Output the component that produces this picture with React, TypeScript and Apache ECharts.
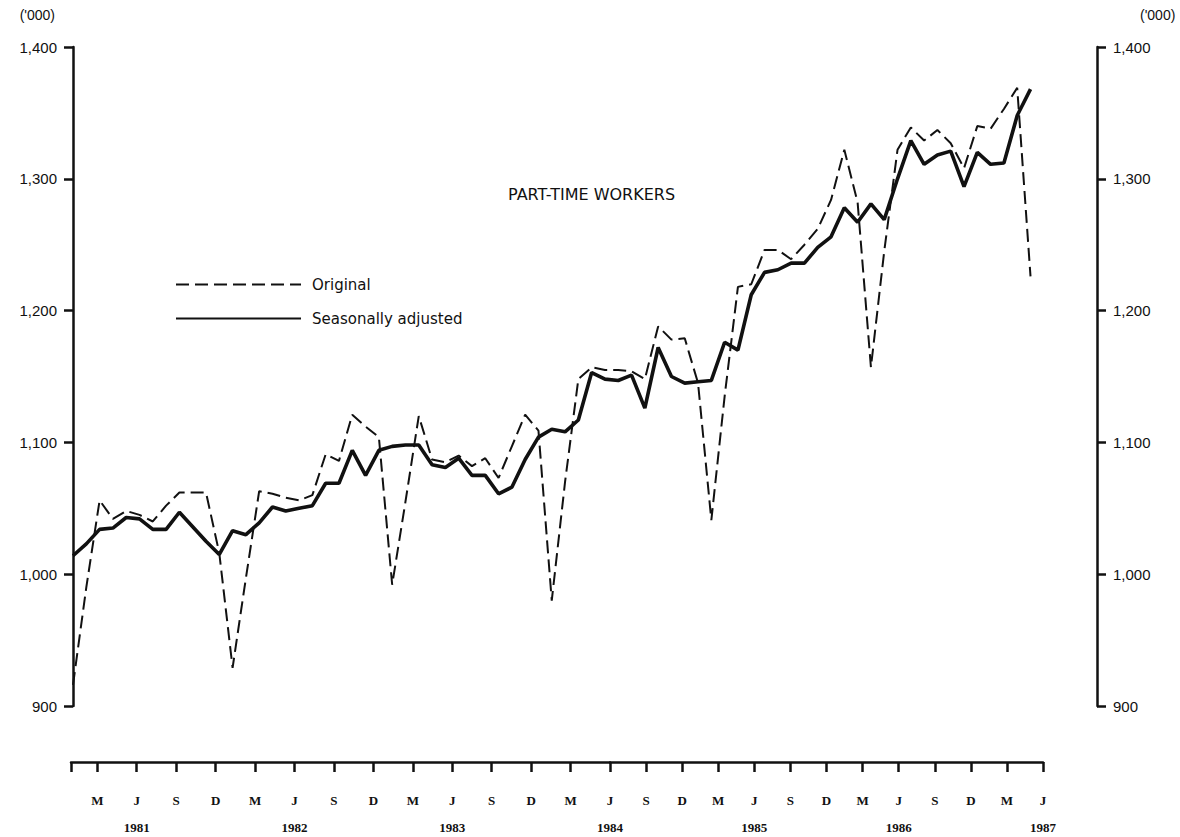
import React, { useEffect, useRef } from "react";
import * as echarts from "echarts";

// Years covered by the time axis (Jan 1981 .. Jun 1987)
const years = [1981, 1982, 1983, 1984, 1985, 1986, 1987];
const monthCodes = ["01", "02", "03", "04", "05", "06", "07", "08", "09", "10", "11", "12"];
// Letters printed on the quarterly ticks (Mar, Jun, Sep, Dec)
const quarterLetters: Record<number, string> = { 2: "M", 5: "J", 8: "S", 11: "D" };
const yTicks = [900, 1000, 1100, 1200, 1300, 1400];

// Part-time workers ('000), monthly Jan 1981 .. Jan 1987
const original = [
  916, 990, 1056, 1042, 1048, 1045, 1040, 1052, 1062, 1062, 1062, 1016,
  929, 997, 1063, 1061, 1058, 1056, 1060, 1091, 1086, 1121, 1112, 1104,
  992, 1055, 1120, 1087, 1085, 1090, 1082, 1088, 1073, 1097, 1121, 1109,
  980, 1070, 1148, 1157, 1155, 1155, 1154, 1148, 1188, 1178, 1179, 1145,
  1041, 1135, 1218, 1220, 1246, 1246, 1239, 1250, 1262, 1284, 1322, 1282,
  1157, 1245, 1322, 1339, 1329, 1337, 1327, 1308, 1340, 1338, 1353, 1369,
  1226,
];
const adjusted = [
  1014, 1023, 1034, 1035, 1043, 1042, 1034, 1034, 1047, 1036, 1025, 1015,
  1033, 1030, 1039, 1051, 1048, 1050, 1052, 1069, 1069, 1094, 1075, 1094,
  1097, 1098, 1098, 1083, 1081, 1088, 1075, 1075, 1061, 1066, 1087, 1104,
  1110, 1108, 1117, 1153, 1148, 1147, 1151, 1126, 1172, 1150, 1145, 1146,
  1147, 1176, 1170, 1212, 1229, 1231, 1236, 1236, 1248, 1256, 1278, 1267,
  1281, 1269, 1300, 1329, 1311, 1318, 1321, 1294, 1320, 1311, 1312, 1348,
  1368,
];

const months: string[] = [];
years.forEach((y) => monthCodes.forEach((m) => months.push(`${y}-${m}`)));
const categories = months.slice(0, 78); // Jan 1981 .. Jun 1987
// The printed time scale is drawn in two stretches that meet at June 1984
const scaleA = months.slice(0, 42); // Jan 1981 .. Jun 1984
const scaleB = months.slice(41, 78); // Jun 1984 .. Jun 1987

const fmtNum = (v: number) => v.toLocaleString("en-US");

export default function App() {
  const ref = useRef<HTMLDivElement>(null);
  useEffect(() => {
    if (!ref.current) return;
    const chart = echarts.init(ref.current, undefined, { renderer: "svg" });
    const ink = "#111";
    const numFont = "Liberation Sans";
    const textFont = "DejaVu Sans";
    const isQuarter = (v: string) => quarterLetters[parseInt(v.split("-")[1], 10) - 1] !== undefined;
    const monthLabel = (v: string) => {
      const [y, m] = v.split("-");
      const mi = parseInt(m, 10) - 1;
      const letter = quarterLetters[mi] || "";
      return mi === 5 ? `${letter}\n${y}` : letter;
    };
    const timeAxis = (gridIndex: number, data: string[], skipFirst: boolean) => ({
      type: "category",
      gridIndex,
      data,
      boundaryGap: false,
      position: "bottom",
      axisLine: { show: true, lineStyle: { color: ink, width: 2.5 } },
      axisTick: {
        show: true,
        length: 10,
        interval: (i: number, v: string) => (i === 0 ? !skipFirst : isQuarter(v)),
        lineStyle: { color: ink, width: 2.5 },
      },
      axisLabel: {
        interval: (i: number, v: string) => (i === 0 && skipFirst ? false : isQuarter(v)),
        color: ink,
        fontSize: 13,
        fontWeight: "bold",
        fontFamily: "Liberation Serif",
        margin: 25,
        lineHeight: 27,
        formatter: (v: string) => monthLabel(v),
      },
      splitLine: { show: false },
    });
    const yAxisCommon = {
      type: "value",
      min: yTicks[0],
      max: yTicks[yTicks.length - 1],
      interval: 100,
      gridIndex: 0,
      splitLine: { show: false },
      axisLine: { show: true, lineStyle: { color: ink, width: 2.5 } },
      axisTick: { show: true, length: 9, lineStyle: { color: ink, width: 2.5 } },
      axisLabel: {
        color: ink,
        fontSize: 15,
        fontFamily: numFont,
        margin: 16,
        formatter: (v: number) => fmtNum(v),
      },
      name: "('000)",
      nameLocation: "end",
      nameGap: 25,
    };
    chart.setOption({
      animation: false,
      backgroundColor: "#fff",
      title: {
        text: "PART-TIME WORKERS",
        left: 508,
        top: 186,
        padding: 0,
        textStyle: { color: ink, fontSize: 16, fontWeight: "normal", fontFamily: textFont },
      },
      legend: {
        data: ["Original", "Seasonally adjusted"],
        orient: "vertical",
        left: 175,
        top: 277,
        padding: 0,
        itemWidth: 125,
        itemHeight: 14,
        itemGap: 19,
        selectedMode: false,
        itemStyle: { opacity: 0 },
        textStyle: { color: ink, fontSize: 15, fontFamily: textFont, padding: [0, 0, 0, 6] },
      },
      grid: [
        { left: 73, right: 83, top: 47, bottom: 131 },
        { left: 71, width: 539, top: 760, bottom: 69 },
        { left: 610, width: 433, top: 760, bottom: 69 },
      ],
      xAxis: [
        {
          type: "category",
          gridIndex: 0,
          data: categories,
          boundaryGap: false,
          show: false,
        },
        timeAxis(1, scaleA, false),
        timeAxis(2, scaleB, true),
      ],
      yAxis: [
        {
          ...yAxisCommon,
          position: "left",
          nameTextStyle: { color: ink, fontSize: 14, fontFamily: numFont, align: "right", padding: [0, 18, 0, 0] },
        },
        {
          ...yAxisCommon,
          position: "right",
          nameTextStyle: { color: ink, fontSize: 14, fontFamily: numFont, align: "left", padding: [0, 0, 0, 43] },
        },
        { type: "value", gridIndex: 1, show: false, min: 0, max: 1 },
        { type: "value", gridIndex: 2, show: false, min: 0, max: 1 },
      ],
      series: [
        {
          name: "Original",
          type: "line",
          xAxisIndex: 0,
          yAxisIndex: 0,
          data: original,
          symbol: "none",
          lineStyle: { color: ink, width: 2, type: [13, 6] },
          itemStyle: { color: ink },
          z: 2,
        },
        {
          name: "Seasonally adjusted",
          type: "line",
          xAxisIndex: 0,
          yAxisIndex: 0,
          data: adjusted,
          symbol: "none",
          lineStyle: { color: ink, width: 3.6 },
          itemStyle: { color: ink },
          z: 3,
        },
        { name: "scaleA", type: "line", xAxisIndex: 1, yAxisIndex: 2, data: [], silent: true },
        { name: "scaleB", type: "line", xAxisIndex: 2, yAxisIndex: 3, data: [], silent: true },
      ],
    });
    return () => chart.dispose();
  }, []);
  return (
    <div
      ref={ref}
      style={{ position: "absolute", left: 0, top: 0, width: 1180, height: 837, background: "#fff" }}
    />
  );
}
